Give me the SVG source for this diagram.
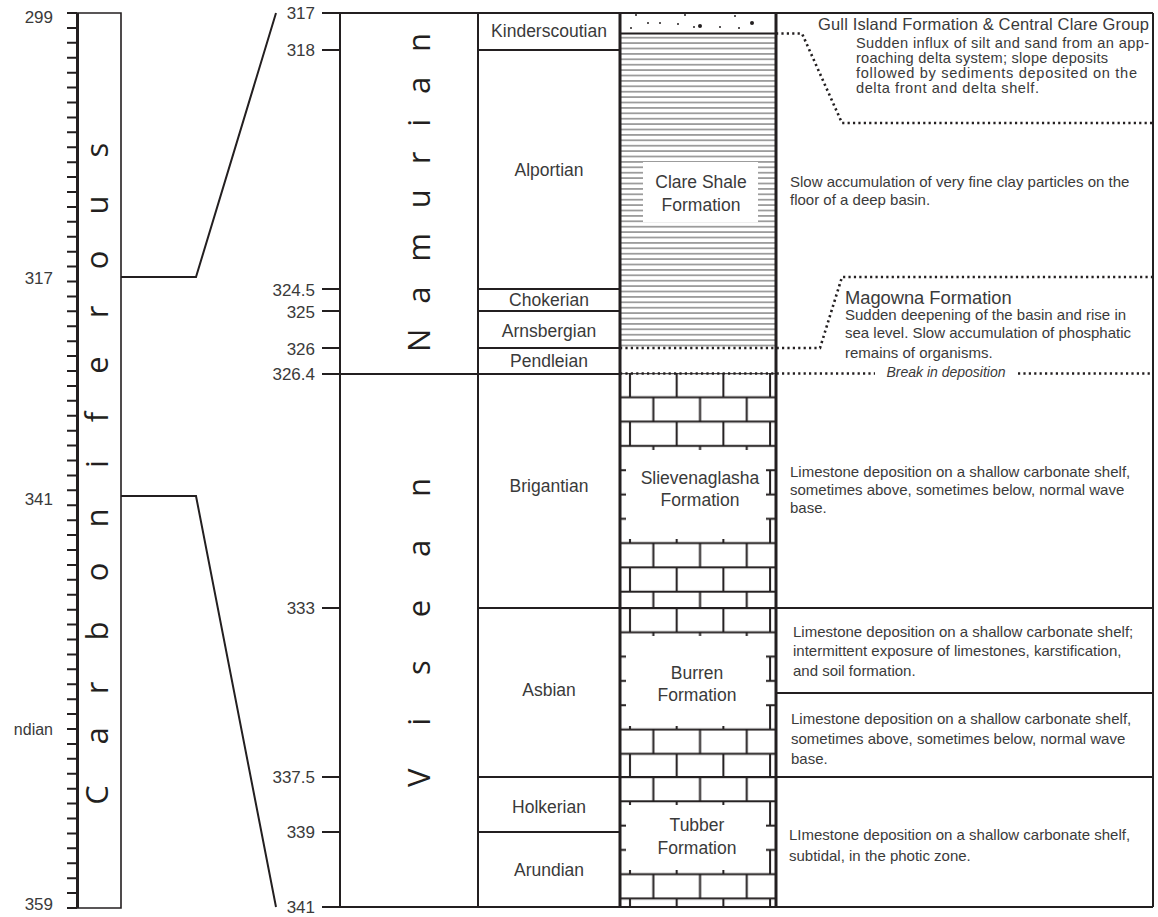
<svg xmlns="http://www.w3.org/2000/svg" width="1158" height="917" viewBox="0 0 1158 917">
<defs>
<style>
.ln{stroke:#231f20;stroke-width:2;fill:none}
.thk{stroke:#231f20;stroke-width:3;fill:none}
.thn{stroke:#231f20;stroke-width:1.6;fill:none}
.dot{stroke:#231f20;stroke-width:2.6;fill:none;stroke-dasharray:2.2 3.2}
.num{font-family:"Liberation Sans",Arial,sans-serif;font-size:17px;fill:#3a3a3a;text-anchor:end}
.stg{font-family:"Liberation Sans",Arial,sans-serif;font-size:17.5px;fill:#3a3a3a;text-anchor:middle}
.desc{font-family:"Liberation Sans",Arial,sans-serif;font-size:15px;fill:#3a3a3a}
.gull{font-family:"Liberation Sans",Arial,sans-serif;font-size:14.6px;fill:#3a3a3a}
.big{font-family:"Open Sans","Liberation Sans",sans-serif;font-size:31px;fill:#231f20;text-anchor:middle}
</style>
<pattern id="shale" patternUnits="userSpaceOnUse" x="620" y="35" width="20" height="5.4">
<line x1="0" y1="2.7" x2="20" y2="2.7" stroke="#808080" stroke-width="1.4"/>
</pattern>
<pattern id="brick" patternUnits="userSpaceOnUse" x="620" y="360.85" width="46.7" height="48.6">
<path d="M0 12.15H46.7M0 36.45H46.7M10 12.15V36.45M33.35 0V12.15M33.35 36.45V48.6" stroke="#231f20" stroke-width="2" fill="none"/>
</pattern>
<pattern id="brick2" patternUnits="userSpaceOnUse" x="620" y="595.85" width="46.7" height="48.6">
<path d="M0 12.15H46.7M0 36.45H46.7M10 12.15V36.45M33.35 0V12.15M33.35 36.45V48.6" stroke="#231f20" stroke-width="2" fill="none"/>
</pattern>
<pattern id="brick3" patternUnits="userSpaceOnUse" x="620" y="740.55" width="46.7" height="48.6">
<path d="M0 12.15H46.7M0 36.45H46.7M10 12.15V36.45M33.35 0V12.15M33.35 36.45V48.6" stroke="#231f20" stroke-width="2" fill="none"/>
</pattern>
</defs>
<rect width="1158" height="917" fill="#fff"/>

<g id="period-scale">
<path class="thk" d="M77.5 13V908"/>
<path class="thn" d="M67 13H121V908H67"/>
<path class="ln" d="M67 13H77M67 27.9H77M67 42.8H77M67 57.7H77M67 72.7H77M67 87.6H77M67 102.5H77M67 117.4H77M67 132.3H77M67 147.3H77M67 162.2H77M67 177.1H77M67 192H77M67 206.9H77M67 221.8H77M67 236.8H77M67 251.7H77M67 266.6H77M67 281.5H77M67 296.4H77M67 311.3H77M67 326.3H77M67 341.2H77M67 356.1H77M67 371H77M67 385.9H77M67 400.8H77M67 415.8H77M67 430.7H77M67 445.6H77M67 460.5H77M67 475.4H77M67 490.3H77M67 505.3H77M67 520.2H77M67 535.1H77M67 550H77M67 564.9H77M67 579.8H77M67 594.8H77M67 609.7H77M67 624.6H77M67 639.5H77M67 654.4H77M67 669.3H77M67 684.3H77M67 699.2H77M67 714.1H77M67 729H77M67 743.9H77M67 758.8H77M67 773.8H77M67 788.7H77M67 803.6H77M67 818.5H77M67 833.4H77M67 848.3H77M67 863.3H77M67 878.2H77M67 893.1H77M67 908H77"/>
<text class="num" x="53" y="23">299</text>
<text class="num" x="53" y="284">317</text>
<text class="num" x="53" y="505">341</text>
<text class="num" x="53" y="735" style="font-size:16px">ndian</text>
<text class="num" x="53" y="910">359</text>
<text class="big" transform="translate(108 0) rotate(-90)" x="-795 -736 -688 -631 -572 -518 -464 -417 -365 -312 -260 -205 -150" y="0">Carboniferous</text>
</g>

<g id="connectors">
<path class="ln" d="M121 277H196L276 13"/>
<path class="ln" d="M121 496H196L276 907"/>
</g>

<g id="axis">
<path class="ln" d="M340 13V907"/>
<path class="ln" d="M322 13H1153M322 907H1153M322 50H340M322 289H340M322 311H340M322 348H340M322 608H340M322 777H340M322 832H340"/>
<text class="num" x="315" y="19">317</text>
<text class="num" x="315" y="56">318</text>
<text class="num" x="315" y="296">324.5</text>
<text class="num" x="315" y="318">325</text>
<text class="num" x="315" y="355">326</text>
<text class="num" x="315" y="380">326.4</text>
<text class="num" x="315" y="614">333</text>
<text class="num" x="315" y="783">337.5</text>
<text class="num" x="315" y="838">339</text>
<text class="num" x="315" y="913">341</text>
</g>

<g id="series">
<path class="ln" d="M322 374H620"/>
<text class="big" style="text-anchor:start" transform="translate(430 0) rotate(-90)" x="-352" y="0" textLength="319" lengthAdjust="spacing">Namurian</text>
<text class="big" style="text-anchor:start" transform="translate(430 0) rotate(-90)" x="-787" y="0" textLength="309" lengthAdjust="spacing">Visean</text>
</g>

<g id="stages">
<path class="ln" d="M478 13V907M620 13V907M478 50H620M478 289H620M478 311H620M478 348H620M478 608H620M478 777H620M478 832H620"/>
<text class="stg" x="549" y="37">Kinderscoutian</text>
<text class="stg" x="549" y="176">Alportian</text>
<text class="stg" x="549" y="306">Chokerian</text>
<text class="stg" x="549" y="337">Arnsbergian</text>
<text class="stg" x="549" y="367">Pendleian</text>
<text class="stg" x="549" y="492">Brigantian</text>
<text class="stg" x="549" y="696">Asbian</text>
<text class="stg" x="549" y="813">Holkerian</text>
<text class="stg" x="549" y="876">Arundian</text>
</g>

<g id="lithology">
<rect x="620" y="34" width="156" height="313" fill="url(#shale)"/>
<rect x="643" y="162" width="115" height="60" fill="#fff"/>
<text class="stg" x="701" y="188">Clare Shale</text>
<text class="stg" x="701" y="211">Formation</text>
<g fill="#231f20">
<circle cx="636" cy="15" r="1"/><circle cx="685" cy="15" r="1"/><circle cx="735" cy="16" r="1"/>
<circle cx="631" cy="28" r="1"/><circle cx="648" cy="23" r="1"/><circle cx="660" cy="23" r="1"/>
<circle cx="678" cy="24" r="1"/><circle cx="694" cy="27" r="1"/><circle cx="700" cy="26" r="2"/>
<circle cx="720" cy="27" r="1"/><circle cx="739" cy="28" r="1"/><circle cx="752" cy="23" r="2"/>
</g>
<path class="ln" d="M620 33.5H776"/>
<rect x="620" y="373" width="156" height="235" fill="url(#brick)"/>
<rect x="620" y="608" width="156" height="169" fill="url(#brick2)"/>
<rect x="620" y="777" width="156" height="130" fill="url(#brick3)"/>
<rect x="626" y="450" width="140" height="89" fill="#fff"/>
<rect x="626" y="636" width="140" height="90" fill="#fff"/>
<rect x="626" y="805" width="140" height="65" fill="#fff"/>
<text class="stg" x="700" y="484">Slievenaglasha</text>
<text class="stg" x="700" y="506">Formation</text>
<text class="stg" x="697" y="679">Burren</text>
<text class="stg" x="697" y="701">Formation</text>
<text class="stg" x="697" y="831">Tubber</text>
<text class="stg" x="697" y="854">Formation</text>
<path class="ln" d="M620 608H776M620 777H776"/>
<path class="thk" d="M620 13V907M776 13V907"/>
</g>

<g id="descriptions">
<path class="ln" d="M1153 13V907M776 608H1153M776 693H1153M776 777H1153"/>
<path class="dot" d="M776 33.5H802L842 123H1153"/>
<path class="dot" d="M620 348H820L842 277H1153"/>
<path class="dot" d="M620 373.5H875M1018 373.5H1153"/>
<text class="desc" x="818" y="30" style="font-size:16.5px" textLength="331" lengthAdjust="spacing">Gull Island Formation &amp; Central Clare Group</text>
<text class="gull" x="856" y="48" textLength="293" lengthAdjust="spacing">Sudden influx of silt and sand from an app-</text>
<text class="gull" x="856" y="63" textLength="252" lengthAdjust="spacing">roaching delta system; slope deposits</text>
<text class="gull" x="856" y="78" textLength="281" lengthAdjust="spacing">followed by sediments deposited on the</text>
<text class="gull" x="856" y="93" textLength="183" lengthAdjust="spacing">delta front and delta shelf.</text>
<text class="desc" x="790" y="187">Slow accumulation of very fine clay particles on the</text>
<text class="desc" x="790" y="205">floor of a deep basin.</text>
<text class="desc" x="845" y="304" style="font-size:18.3px">Magowna Formation</text>
<text class="desc" x="845" y="320">Sudden deepening of the basin and rise in</text>
<text class="desc" x="845" y="338">sea level. Slow accumulation of phosphatic</text>
<text class="desc" x="845" y="358">remains of organisms.</text>
<text class="desc" x="946" y="377" style="font-style:italic;text-anchor:middle;font-size:14px">Break in deposition</text>
<text class="desc" x="790" y="477">Limestone deposition on a shallow carbonate shelf,</text>
<text class="desc" x="790" y="495">sometimes above, sometimes below, normal wave</text>
<text class="desc" x="790" y="513">base.</text>
<text class="desc" x="793" y="637">Limestone deposition on a shallow carbonate shelf;</text>
<text class="desc" x="793" y="656">intermittent exposure of limestones, karstification,</text>
<text class="desc" x="793" y="676">and soil formation.</text>
<text class="desc" x="791" y="724">Limestone deposition on a shallow carbonate shelf,</text>
<text class="desc" x="791" y="744">sometimes above, sometimes below, normal wave</text>
<text class="desc" x="791" y="764">base.</text>
<text class="desc" x="789" y="840">LImestone deposition on a shallow carbonate shelf,</text>
<text class="desc" x="789" y="861">subtidal, in the photic zone.</text>
</g>
</svg>
